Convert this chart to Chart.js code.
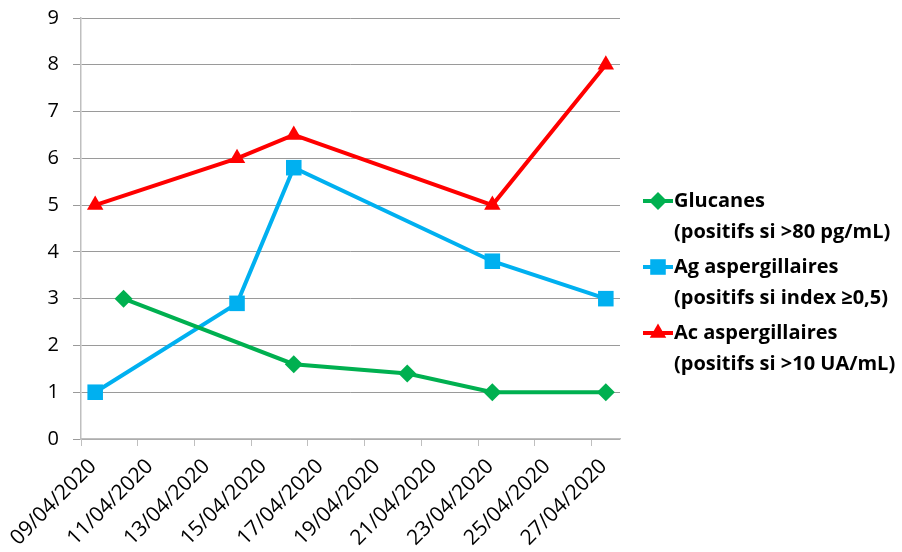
<!DOCTYPE html>
<html>
<head>
<meta charset="utf-8">
<script src="https://cdn.jsdelivr.net/npm/chart.js@4/dist/chart.umd.min.js"></script>
<style>
  html, body { margin: 0; padding: 0; background: #fff; }
  #wrap { width: 902px; height: 552px; }
</style>
</head>
<body>
<div id="wrap"><canvas id="c" width="902" height="552"></canvas></div>
<script>
// Axis dates (one label every two days)
const tickLabels = ['09/04/2020', '11/04/2020', '13/04/2020', '15/04/2020', '17/04/2020',
                    '19/04/2020', '21/04/2020', '23/04/2020', '25/04/2020', '27/04/2020'];
const axisStart = '09/04/2020';
const axisEnd = '27/04/2020';

// Glucanes
const glucanesDates = ['10/04/2020', '16/04/2020', '20/04/2020', '23/04/2020', '27/04/2020'];
const glucanesValues = [3, 1.6, 1.4, 1, 1];

// Antigène aspergillaire
const agDates = ['09/04/2020', '14/04/2020', '16/04/2020', '23/04/2020', '27/04/2020'];
const agValues = [1, 2.9, 5.8, 3.8, 3];

// Anticorps aspergillaires
const acDates = ['09/04/2020', '14/04/2020', '16/04/2020', '23/04/2020', '27/04/2020'];
const acValues = [5, 6, 6.5, 5, 8];

const seriesNames = ['Glucanes', 'Ag aspergillaires', 'Ac aspergillaires'];
const seriesNotes = ['(positifs si >80 pg/mL)', '(positifs si index \u22650,5)', '(positifs si >10 UA/mL)'];

const yTicks = [0, 1, 2, 3, 4, 5, 6, 7, 8, 9];

// dd/mm/yyyy -> day number since axis start
function toDay(s) {
  const p = s.split('/').map(Number);
  const q = axisStart.split('/').map(Number);
  return Math.round((Date.UTC(p[2], p[1] - 1, p[0]) - Date.UTC(q[2], q[1] - 1, q[0])) / 86400000);
}
const lastDay = toDay(axisEnd);
const pts = (dates, vals) => dates.map((d, i) => ({ x: toDay(d), y: vals[i] }));

// tick marks sit on the left edge of each labelled day
const tickByValue = {};
tickLabels.forEach(l => { tickByValue[toDay(l) - 0.5] = l; });

const FONT = '"Open Sans", Lato, "DejaVu Sans", sans-serif';

const sideLegend = {
  id: 'sideLegend',
  afterDraw(chart, args, opts) {
    const ctx = chart.ctx;
    ctx.save();
    chart.data.datasets.forEach((ds, i) => {
      const y = opts.top + i * opts.itemGap;
      ctx.strokeStyle = ds.borderColor;
      ctx.lineWidth = ds.borderWidth;
      ctx.beginPath();
      ctx.moveTo(opts.x, y);
      ctx.lineTo(opts.x + opts.lineLength, y);
      ctx.stroke();
      ctx.fillStyle = ds.pointBackgroundColor;
      ctx.strokeStyle = ds.pointBackgroundColor;
      Chart.helpers.drawPoint(ctx, { pointStyle: ds.pointStyle, radius: ds.pointRadius, rotation: 0, borderWidth: 0 },
        opts.x + opts.lineLength / 2, y);
      ctx.fillStyle = '#000';
      ctx.font = opts.font;
      ctx.textAlign = 'left';
      ctx.textBaseline = 'middle';
      ctx.fillText(ds.label, opts.x + opts.lineLength + opts.textGap, y);
      ctx.fillText(opts.notes[i], opts.x + opts.lineLength + opts.textGap, y + opts.lineGap);
    });
    ctx.restore();
  }
};

new Chart(document.getElementById('c'), {
  type: 'line',
  data: {
    datasets: [
      { label: seriesNames[0], data: pts(glucanesDates, glucanesValues),
        borderColor: '#00B050', backgroundColor: '#00B050', pointBackgroundColor: '#00B050',
        pointBorderColor: '#00B050', pointBorderWidth: 0, borderWidth: 4,
        pointStyle: 'rectRot', pointRadius: 9 },
      { label: seriesNames[1], data: pts(agDates, agValues),
        borderColor: '#00B0F0', backgroundColor: '#00B0F0', pointBackgroundColor: '#00B0F0',
        pointBorderColor: '#00B0F0', pointBorderWidth: 0, borderWidth: 4,
        pointStyle: 'rect', pointRadius: 11 },
      { label: seriesNames[2], data: pts(acDates, acValues),
        borderColor: '#FF0000', backgroundColor: '#FF0000', pointBackgroundColor: '#FF0000',
        pointBorderColor: '#FF0000', pointBorderWidth: 0, borderWidth: 4,
        pointStyle: 'triangle', pointRadius: 9.5 }
    ]
  },
  options: {
    responsive: false,
    animation: false,
    events: [],
    layout: { padding: { top: 18, right: 282, left: 0, bottom: 0 } },
    plugins: {
      legend: { display: false },
      tooltip: { enabled: false },
      sideLegend: {
        x: 643, top: 201, itemGap: 66, lineGap: 31, lineLength: 30, textGap: 1,
        font: 'bold 20px ' + FONT, notes: seriesNotes
      }
    },
    scales: {
      x: {
        type: 'linear',
        min: -0.5,
        max: lastDay + 0.5,
        afterBuildTicks: s => { s.ticks = Object.keys(tickByValue).map(Number).sort((a, b) => a - b).map(v => ({ value: v })); },
        afterFit: s => { s.height = 113; s.paddingLeft = 0; s.paddingRight = 0; },
        grid: { drawOnChartArea: false, drawTicks: true, tickLength: 7, color: '#bfbfbf', lineWidth: 1 },
        border: { display: true, color: '#bfbfbf', width: 1.5 },
        ticks: {
          autoSkip: false, minRotation: 45, maxRotation: 45, labelOffset: 12, padding: 8,
          color: '#000', font: { family: FONT, size: 21 },
          callback: v => tickByValue[v] || ''
        }
      },
      y: {
        min: 0,
        max: 9,
        afterBuildTicks: s => { s.ticks = yTicks.map(v => ({ value: v })); },
        afterFit: s => { s.width = 81; s.paddingTop = 0; s.paddingBottom = 0; },
        grid: { color: '#9a9a9a', lineWidth: 1, drawTicks: true, tickLength: 8 },
        border: { display: true, color: '#bfbfbf', width: 1.5 },
        ticks: { color: '#000', padding: 14, font: { family: FONT, size: 20 } }
      }
    }
  },
  plugins: [sideLegend]
});
</script>
</body>
</html>
